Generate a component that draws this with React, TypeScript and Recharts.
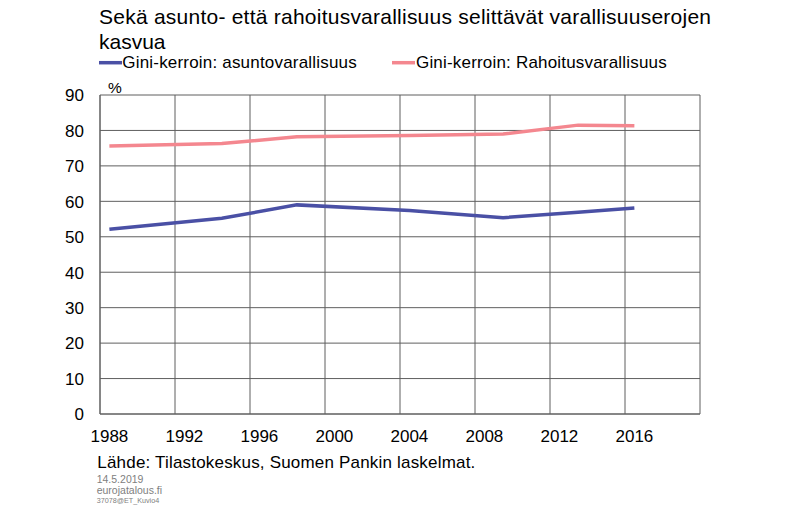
import React from "react";
import { LineChart, Line, XAxis, YAxis, CartesianGrid } from "recharts";

// ---- data ----
const surveyYears = [1988, 1994, 1998, 2004, 2009, 2013, 2016];
const housingGini = [52.1, 55.2, 59.0, 57.4, 55.4, 56.9, 58.1];
const financialGini = [75.6, 76.3, 78.2, 78.6, 79.0, 81.5, 81.3];
const seriesNames = ["Gini-kerroin: asuntovarallisuus", "Gini-kerroin: Rahoitusvarallisuus"];
const xTicks = [1988, 1992, 1996, 2000, 2004, 2008, 2012, 2016, 2020];
const xLabelTicks = [1988, 1992, 1996, 2000, 2004, 2008, 2012, 2016];
const yTicks = [0, 10, 20, 30, 40, 50, 60, 70, 80, 90];
const titleLines = ["Sekä asunto- että rahoitusvarallisuus selittävät varallisuuserojen", "kasvua"];
const sourceText = "Lähde: Tilastokeskus, Suomen Pankin laskelmat.";
const footLines = ["14.5.2019", "eurojatalous.fi", "37078@ET_Kuvio4"];

// observations are placed at mid-year
const data = surveyYears.map((yr, i) => ({
  t: yr + 0.5,
  housing: housingGini[i],
  financial: financialGini[i],
}));

const FONT = "'Liberation Sans', Arial, Helvetica, sans-serif";
const BLUE = "#4A50A5";
const PINK = "#F4878F";
const GRID = "#5f5f5f";

const XTick = (props: any) => {
  const { x, y, payload } = props;
  if (!xLabelTicks.includes(payload.value)) return null;
  return (
    <text x={x + 9.4} y={y + 27.7} textAnchor="middle" fontFamily={FONT} fontSize={17} fill="#000">
      {payload.value}
    </text>
  );
};

const YTick = (props: any) => {
  const { x, y, payload } = props;
  return (
    <text x={x} y={y + 6.3} textAnchor="end" fontFamily={FONT} fontSize={17} fill="#000">
      {payload.value}
    </text>
  );
};

export default function App() {
  return (
    <div style={{ position: "relative", width: 800, height: 522, background: "#fff" }}>
      <style>{`body{margin:0;}`}</style>
      <LineChart
        width={800}
        height={522}
        data={data}
        margin={{ top: 95, right: 100, bottom: 78, left: 60 }}
      >
        <CartesianGrid stroke={GRID} strokeWidth={1} />
        <XAxis
          dataKey="t"
          type="number"
          domain={[1988, 2020]}
          ticks={xTicks}
          interval={0}
          height={30}
          tickLine={false}
          tickSize={0}
          tickMargin={0}
          axisLine={{ stroke: GRID }}
          tick={<XTick />}
        />
        <YAxis
          type="number"
          domain={[0, 90]}
          ticks={yTicks}
          interval={0}
          width={40}
          tickLine={false}
          tickSize={0}
          tickMargin={16}
          axisLine={{ stroke: GRID }}
          tick={<YTick />}
        />
        <Line
          type="linear"
          dataKey="financial"
          name={seriesNames[1]}
          stroke={PINK}
          strokeWidth={3.5}
          dot={false}
          isAnimationActive={false}
        />
        <Line
          type="linear"
          dataKey="housing"
          name={seriesNames[0]}
          stroke={BLUE}
          strokeWidth={3.5}
          dot={false}
          isAnimationActive={false}
        />
      </LineChart>
      <svg
        width={800}
        height={522}
        style={{ position: "absolute", left: 0, top: 0, pointerEvents: "none" }}
      >
        <text x={99} y={24} fontFamily={FONT} fontSize={21} fill="#000" textLength={612} lengthAdjust="spacing">
          {titleLines[0]}
        </text>
        <text x={99} y={49.3} fontFamily={FONT} fontSize={21} fill="#000">
          {titleLines[1]}
        </text>
        <line x1={99} x2={122} y1={62.7} y2={62.7} stroke={BLUE} strokeWidth={3.5} />
        <text x={122.3} y={68.3} fontFamily={FONT} fontSize={17} fill="#000" textLength={234.4} lengthAdjust="spacing">
          {seriesNames[0]}
        </text>
        <line x1={392} x2={415} y1={62.7} y2={62.7} stroke={PINK} strokeWidth={3.5} />
        <text x={416} y={68.3} fontFamily={FONT} fontSize={17} fill="#000" textLength={250.7} lengthAdjust="spacing">
          {seriesNames[1]}
        </text>
        <text x={108} y={92.5} fontFamily={FONT} fontSize={15.5} fill="#000">%</text>
        <text x={97.3} y={467.7} fontFamily={FONT} fontSize={17} fill="#000" textLength={378} lengthAdjust="spacing">
          {sourceText}
        </text>
        <text x={96.7} y={482.7} fontFamily={FONT} fontSize={10.5} fill="#808080">{footLines[0]}</text>
        <text x={96.7} y={493.7} fontFamily={FONT} fontSize={10.5} fill="#808080">{footLines[1]}</text>
        <text x={96.7} y={502.7} fontFamily={FONT} fontSize={7.2} fill="#808080">{footLines[2]}</text>
      </svg>
    </div>
  );
}
